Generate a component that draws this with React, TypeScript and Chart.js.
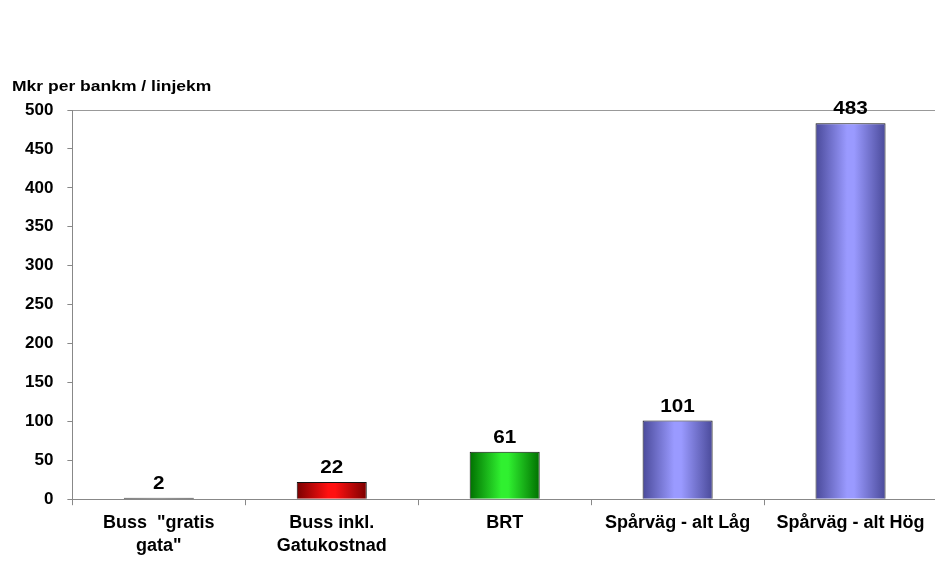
import React, { useEffect, useRef } from "react";
import { Chart, registerables } from "chart.js";

Chart.register(...registerables);

const categories: (string | string[])[] = [
  ["Buss  \"gratis", "gata\""],
  ["Buss inkl.", "Gatukostnad"],
  "BRT",
  "Spårväg - alt Låg",
  "Spårväg - alt Hög",
];
const values: number[] = [2, 22, 61, 101, 483];
const edgeColors: string[] = ["#000000", "#7a0000", "#007000", "#4a4a9a", "#4a4a9a"];
const centerColors: string[] = ["#303030", "#ff1010", "#30f030", "#9a9aff", "#9a9aff"];
const yTitle = "Mkr per bankm / linjekm";

const FONT = "'Liberation Sans', Arial, sans-serif";

export default function App() {
  const ref = useRef<HTMLCanvasElement | null>(null);
  useEffect(() => {
    if (!ref.current) return;
    const gradientBars = {
      id: "gradientBars",
      beforeDatasetsDraw(chart: any) {
        const ctx = chart.ctx;
        const meta = chart.getDatasetMeta(0);
        meta.data.forEach((el: any, i: number) => {
          if (!Number.isFinite(el.x) || !Number.isFinite(el.width)) return;
          const w = el.width;
          const g = ctx.createLinearGradient(el.x - w / 2, 0, el.x + w / 2, 0);
          g.addColorStop(0, edgeColors[i]);
          g.addColorStop(0.45, centerColors[i]);
          g.addColorStop(0.55, centerColors[i]);
          g.addColorStop(1, edgeColors[i]);
          el.options.backgroundColor = g;
        });
      },
    };
    const valueLabels = {
      id: "valueLabels",
      afterDatasetsDraw(chart: any) {
        const ctx = chart.ctx;
        const meta = chart.getDatasetMeta(0);
        meta.data.forEach((el: any, i: number) => {
          ctx.save();
          ctx.translate(el.x, el.y - 5);
          ctx.scale(1.15, 1);
          ctx.font = `bold 18px ${FONT}`;
          ctx.fillStyle = "#000";
          ctx.textAlign = "center";
          ctx.textBaseline = "bottom";
          ctx.fillText(String(values[i]), 0, 0);
          ctx.restore();
        });
      },
    };
    const axisTitle = {
      id: "axisTitle",
      afterDraw(chart: any) {
        const ctx = chart.ctx;
        ctx.save();
        ctx.translate(12, chart.chartArea.top - 23);
        ctx.scale(1.25, 1);
        ctx.font = `bold 14px ${FONT}`;
        ctx.fillStyle = "#000";
        ctx.textAlign = "left";
        ctx.textBaseline = "middle";
        ctx.fillText(yTitle, 0, 0);
        ctx.restore();
      },
    };
    const chart = new Chart(ref.current, {
      type: "bar",
      data: {
        labels: categories,
        datasets: [
          {
            data: values,
            backgroundColor: centerColors,
            borderColor: "#111",
            borderWidth: 1,
            barPercentage: 0.81,
            categoryPercentage: 0.5,
          },
        ],
      },
      options: {
        animation: false,
        responsive: false,
        maintainAspectRatio: false,
        layout: { padding: { top: 110, right: 3, left: 11, bottom: 5 } },
        plugins: {
          legend: { display: false },
          tooltip: { enabled: false },
          title: { display: false },
        },
        scales: {
          x: {
            grid: {
              offset: true,
              drawOnChartArea: false,
              drawTicks: true,
              tickLength: 6,
              color: "#888",
            },
            border: { color: "#888", width: 1 },
            ticks: {
              color: "#000",
              font: { family: FONT, size: 18, weight: "bold", lineHeight: 1.3 },
              maxRotation: 0,
              autoSkip: false,
              padding: 6,
            },
          },
          y: {
            min: 0,
            max: 500,
            grid: {
              color: (c: any) => (c.tick && c.tick.value === 500 ? "#999" : "rgba(0,0,0,0)"),
              tickColor: "#888",
              drawTicks: true,
              tickLength: 5,
            },
            border: { color: "#888", width: 1 },
            ticks: {
              stepSize: 50,
              color: "#000",
              font: { family: FONT, size: 17, weight: "bold" },
              padding: 14,
            },
          },
        },
      },
      plugins: [gradientBars, valueLabels, axisTitle],
    });
    return () => chart.destroy();
  }, []);
  return (
    <div style={{ position: "fixed", left: 0, top: 0, width: 935, height: 569, overflow: "hidden", background: "#fff" }}>
      <canvas ref={ref} width={940} height={569} style={{ width: 940, height: 569, display: "block" }} />
    </div>
  );
}
